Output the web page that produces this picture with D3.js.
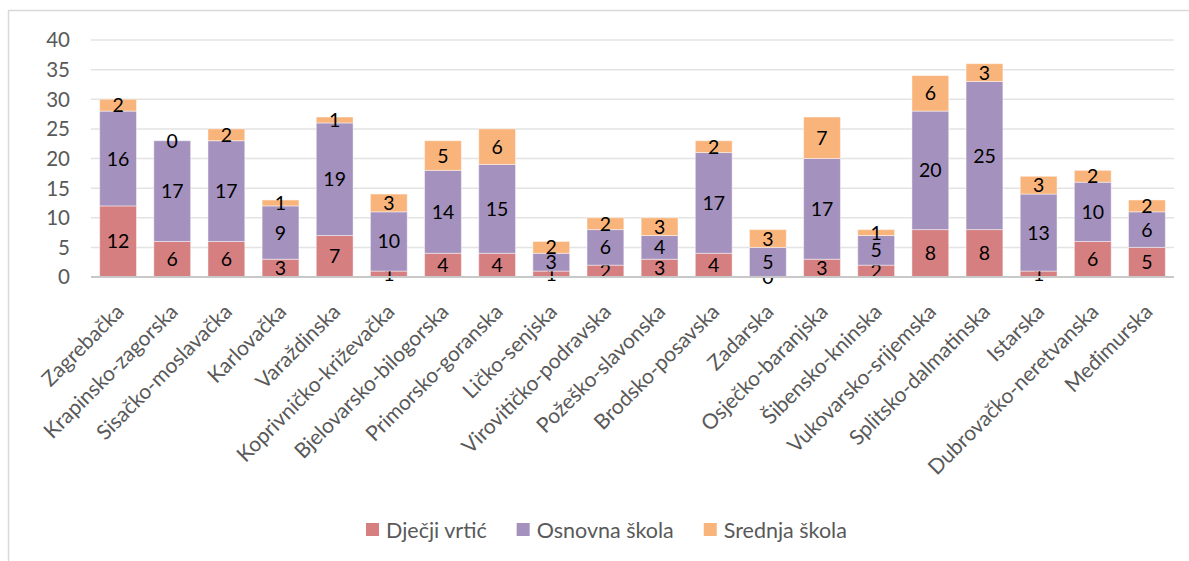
<!DOCTYPE html>
<html>
<head>
<meta charset="utf-8">
<script src="https://cdn.jsdelivr.net/npm/d3@7"></script>
<style>
  body { margin: 0; background: #fff; }
  svg { display: block; font-family: Lato, "Open Sans", sans-serif; }
</style>
</head>
<body>
<svg id="chart" width="1189" height="561"></svg>
<script>
const counties = ['Zagrebačka', 'Krapinsko-zagorska', 'Sisačko-moslavačka', 'Karlovačka', 'Varaždinska',
  'Koprivničko-križevačka', 'Bjelovarsko-bilogorska', 'Primorsko-goranska', 'Ličko-senjska',
  'Virovitičko-podravska', 'Požeško-slavonska', 'Brodsko-posavska', 'Zadarska', 'Osječko-baranjska',
  'Šibensko-kninska', 'Vukovarsko-srijemska', 'Splitsko-dalmatinska', 'Istarska',
  'Dubrovačko-neretvanska', 'Međimurska'];
const seriesNames = ['Dječji vrtić', 'Osnovna škola', 'Srednja škola'];
const vrtic = [12, 6, 6, 3, 7, 1, 4, 4, 1, 2, 3, 4, 0, 3, 2, 8, 8, 1, 6, 5];
const osnovna = [16, 17, 17, 9, 19, 10, 14, 15, 3, 6, 4, 17, 5, 17, 5, 20, 25, 13, 10, 6];
const srednja = [2, 0, 2, 1, 1, 3, 5, 6, 2, 2, 3, 2, 3, 7, 1, 6, 3, 3, 2, 2];
const yTicks = [0, 5, 10, 15, 20, 25, 30, 35, 40];

const colors = ['#d67f80', '#a491be', '#f9b47b'];

const svg = d3.select('#chart');

// chart frame (only top and left edges are inside the picture)
svg.append('path')
  .attr('d', 'M8.5,561 V10.5 H1189')
  .attr('fill', 'none')
  .attr('stroke', '#d9d9d9')
  .attr('stroke-width', 1.5);

const x = d3.scaleBand()
  .domain(counties)
  .range([91, 1174])
  .paddingInner(0.32)
  .paddingOuter(0.16);

const y = d3.scaleLinear()
  .domain([0, 40])
  .range([277, 40]);

// gridlines
svg.append('g')
  .selectAll('line')
  .data(yTicks.filter(d => d > 0))
  .join('line')
  .attr('x1', 91)
  .attr('x2', 1174)
  .attr('y1', d => y(d))
  .attr('y2', d => y(d))
  .attr('stroke', '#e3e3e3')
  .attr('stroke-width', 1.5);

// y tick labels
svg.append('g')
  .selectAll('text')
  .data(yTicks)
  .join('text')
  .attr('x', 70)
  .attr('y', d => y(d))
  .attr('dy', '0.36em')
  .attr('text-anchor', 'end')
  .attr('fill', '#595959')
  .style('font-size', '20.5px')
  .text(d => d);

const rows = counties.map((c, i) => ({ county: c, 'Dječji vrtić': vrtic[i], 'Osnovna škola': osnovna[i], 'Srednja škola': srednja[i] }));
const stacked = d3.stack().keys(seriesNames)(rows);

const layers = svg.append('g')
  .selectAll('g')
  .data(stacked)
  .join('g')
  .attr('fill', (d, i) => colors[i]);

layers.selectAll('rect')
  .data(d => d)
  .join('rect')
  .attr('x', d => x(d.data.county))
  .attr('width', x.bandwidth())
  .attr('y', d => y(d[1]))
  .attr('height', d => y(d[0]) - y(d[1]))
  .attr('stroke', 'rgba(255,255,255,0.45)')
  .attr('stroke-width', 1);

// x axis baseline
svg.append('line')
  .attr('x1', 91)
  .attr('x2', 1174)
  .attr('y1', y(0))
  .attr('y2', y(0))
  .attr('stroke', '#c8c8c8')
  .attr('stroke-width', 2);

// data labels, centred in each segment
layers.selectAll('text')
  .data(d => d)
  .join('text')
  .attr('x', d => x(d.data.county) + x.bandwidth() / 2)
  .attr('y', d => (y(d[0]) + y(d[1])) / 2)
  .attr('dy', '0.36em')
  .attr('text-anchor', 'middle')
  .attr('fill', '#000')
  .style('font-size', '19.5px')
  .text(d => d[1] - d[0]);

// category labels at -45 degrees
svg.append('g')
  .selectAll('text')
  .data(counties)
  .join('text')
  .attr('transform', d => `translate(${x(d) + x.bandwidth() / 2 + 7},${313}) rotate(-45)`)
  .attr('text-anchor', 'end')
  .attr('fill', '#595959')
  .style('font-size', '21px')
  .text(d => d);

// legend
const legend = svg.append('g');
let lx = 366;
seriesNames.forEach((name, i) => {
  legend.append('rect')
    .attr('x', lx)
    .attr('y', 523)
    .attr('width', 13)
    .attr('height', 13)
    .attr('fill', colors[i]);
  const t = legend.append('text')
    .attr('x', lx + 20)
    .attr('y', 530)
    .attr('dy', '0.36em')
    .attr('fill', '#595959')
    .style('font-size', '21.5px')
    .text(name);
  lx += 20 + t.node().getComputedTextLength() + 30;
});
</script>
</body>
</html>
